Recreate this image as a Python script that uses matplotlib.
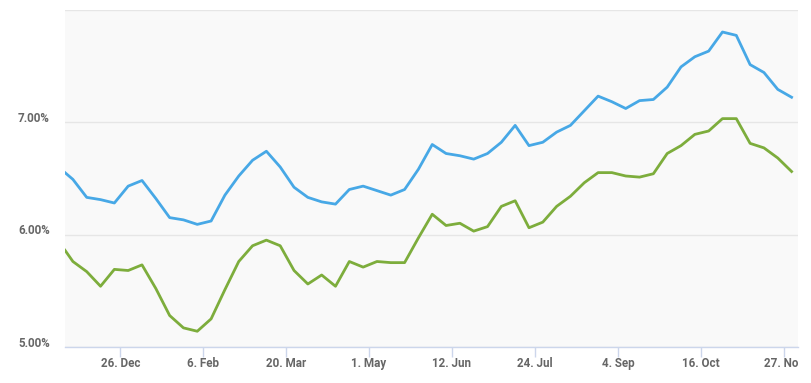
import numpy as np
import pandas as pd
import matplotlib
matplotlib.use('Agg')
import matplotlib.pyplot as plt
from matplotlib.transforms import Bbox, TransformedBbox

# Weekly observations (first point is the Monday before the Friday series)
dates = pd.to_datetime(['2016-11-28']).append(
    pd.date_range('2016-12-02', '2017-12-01', freq='7D'))

blue_rate = [6.55, 6.49, 6.33, 6.31, 6.28, 6.43, 6.48, 6.32, 6.15, 6.13,
             6.09, 6.12, 6.35, 6.52, 6.66, 6.74, 6.60, 6.42, 6.33, 6.29,
             6.27, 6.40, 6.43, 6.39, 6.35, 6.40, 6.58, 6.80, 6.72, 6.70,
             6.67, 6.72, 6.82, 6.97, 6.79, 6.82, 6.91, 6.97, 7.10, 7.23,
             7.18, 7.12, 7.19, 7.20, 7.31, 7.49, 7.58, 7.63, 7.80, 7.77,
             7.51, 7.44, 7.29, 7.22]

green_rate = [5.86, 5.76, 5.67, 5.54, 5.69, 5.68, 5.73, 5.52, 5.28, 5.17,
              5.14, 5.25, 5.51, 5.76, 5.90, 5.95, 5.90, 5.68, 5.56, 5.64,
              5.54, 5.76, 5.71, 5.76, 5.75, 5.75, 5.97, 6.18, 6.08, 6.10,
              6.03, 6.07, 6.25, 6.30, 6.06, 6.11, 6.25, 6.34, 6.46, 6.55,
              6.55, 6.52, 6.51, 6.54, 6.72, 6.79, 6.89, 6.92, 7.03, 7.03,
              6.81, 6.77, 6.68, 6.56]

tick_dates = pd.to_datetime(['2016-12-26', '2017-02-06', '2017-03-20',
                             '2017-05-01', '2017-06-12', '2017-07-24',
                             '2017-09-04', '2017-10-16', '2017-11-27'])
tick_labels = ['26. Dec', '6. Feb', '20. Mar', '1. May', '12. Jun',
               '24. Jul', '4. Sep', '16. Oct', '27. Nov']
y_ticks = [5, 6, 7, 8]
y_labels = ['5.00%', '6.00%', '7.00%', '']

plt.rcParams['font.family'] = ['Roboto', 'DejaVu Sans']

fig = plt.figure(figsize=(8.11, 3.83), dpi=100)
ax = fig.add_axes([65 / 811, 36 / 383, 733 / 811, 337.5 / 383])
ax.set_facecolor('#f9f9f9')

ax.plot(dates, blue_rate, color='#47a8e6', lw=2.0, solid_joinstyle='round')
ax.plot(dates, green_rate, color='#7dad3c', lw=2.0, solid_joinstyle='round')

ax.set_xlim(pd.Timestamp('2016-11-28'), pd.Timestamp('2017-12-04 06:00'))
ax.set_ylim(5, 8)

ax.set_yticks(y_ticks)
ax.set_yticklabels(y_labels)
ax.set_xticks(tick_dates)
ax.set_xticklabels(tick_labels)

ax.grid(axis='y', color='#e6e6e6', lw=1)
ax.set_axisbelow(True)
for side in ['top', 'right', 'left']:
    ax.spines[side].set_visible(False)
ax.spines['bottom'].set_color('#ccd6eb')
ax.spines['bottom'].set_linewidth(1)

ax.tick_params(axis='y', length=0, pad=11, labelsize=8.4, labelcolor='#666666')
ax.tick_params(axis='x', length=7, width=1, color='#ccd6eb', pad=0.5,
               labelsize=8.4, labelcolor='#666666')
for lab in ax.get_yticklabels() + ax.get_xticklabels():
    lab.set_fontweight('bold')
for lab in ax.get_yticklabels():
    lab.set_verticalalignment('baseline')

# the chart container is cut at the right edge of the plot area
clip = TransformedBbox(Bbox([[0, 0], [798 / 811, 1]]), fig.transFigure)
for lab in ax.get_xticklabels():
    lab.set_clip_box(clip)
    lab.set_clip_on(True)

fig.savefig('out.png', dpi=100, facecolor='white')
